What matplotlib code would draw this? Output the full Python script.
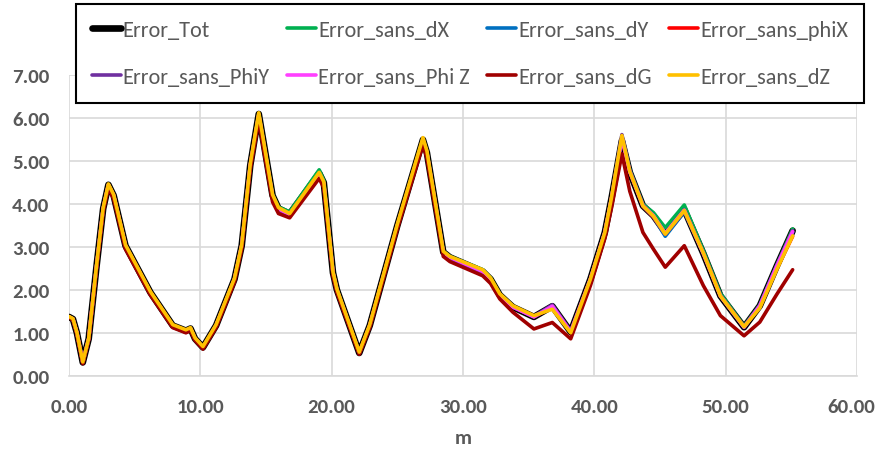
import matplotlib
matplotlib.use("Agg")
import matplotlib.pyplot as plt
from matplotlib import font_manager
from matplotlib.transforms import ScaledTranslation

x_m = [0.0, 0.3, 0.6, 1.05, 1.5, 2.1, 2.6, 3.0, 3.4, 4.3,
       6.2, 7.9, 8.9, 9.25, 9.6, 10.2, 11.2, 12.6, 13.15, 13.8,
       14.45, 15.5, 15.95, 16.8, 19.05, 19.4, 20.1, 20.4, 22.1, 22.9,
       25.0, 26.95, 27.25, 28.5, 29.0, 31.5, 32.1, 32.8, 33.8, 35.4,
       36.8, 38.2, 39.7, 40.8, 41.3, 42.1, 42.7, 43.7, 44.5, 45.4,
       46.85, 48.3, 49.6, 51.4, 52.6, 53.9, 55.1]

error_tot = [1.37, 1.32, 1.00, 0.31, 0.86, 2.56, 3.89, 4.45, 4.20, 3.03,
             1.94, 1.17, 1.05, 1.10, 0.86, 0.66, 1.17, 2.25, 3.03, 4.90,
             6.10, 4.20, 3.90, 3.77, 4.72, 4.50, 2.40, 2.00, 0.53, 1.17,
             3.50, 5.50, 5.20, 2.88, 2.76, 2.43, 2.25, 1.88, 1.60, 1.37,
             1.62, 1.02, 2.25, 3.34, 4.12, 5.48, 4.74, 3.96, 3.73, 3.34,
             3.87, 2.85, 1.86, 1.13, 1.63, 2.56, 3.38]

error_sans_dX = [1.37, 1.32, 1.00, 0.31, 0.86, 2.56, 3.89, 4.45, 4.20, 3.03,
                 1.94, 1.17, 1.05, 1.10, 0.86, 0.66, 1.17, 2.25, 3.03, 4.90,
                 6.10, 4.22, 3.93, 3.82, 4.80, 4.55, 2.42, 2.02, 0.53, 1.17,
                 3.50, 5.52, 5.22, 2.90, 2.78, 2.47, 2.28, 1.90, 1.62, 1.38,
                 1.62, 1.02, 2.25, 3.34, 4.12, 5.55, 4.80, 4.00, 3.80, 3.45,
                 3.98, 2.92, 1.92, 1.16, 1.65, 2.58, 3.42]

error_sans_dY = [1.37, 1.32, 1.00, 0.31, 0.86, 2.56, 3.89, 4.45, 4.20, 3.03,
                 1.94, 1.17, 1.05, 1.10, 0.86, 0.66, 1.17, 2.25, 3.03, 4.90,
                 6.08, 4.18, 3.88, 3.76, 4.70, 4.48, 2.40, 2.00, 0.53, 1.17,
                 3.50, 5.50, 5.20, 2.86, 2.74, 2.42, 2.24, 1.87, 1.60, 1.38,
                 1.63, 1.02, 2.25, 3.34, 4.12, 5.60, 4.78, 3.95, 3.70, 3.25,
                 3.82, 2.85, 1.86, 1.13, 1.63, 2.56, 3.35]

error_sans_phiX = [1.37, 1.32, 1.00, 0.31, 0.86, 2.56, 3.89, 4.45, 4.20, 3.03,
                   1.94, 1.17, 1.05, 1.10, 0.86, 0.66, 1.17, 2.25, 3.03, 4.90,
                   6.08, 4.18, 3.88, 3.76, 4.70, 4.48, 2.40, 2.00, 0.53, 1.17,
                   3.50, 5.50, 5.20, 2.87, 2.75, 2.43, 2.25, 1.88, 1.60, 1.38,
                   1.58, 1.02, 2.25, 3.34, 4.12, 5.55, 4.76, 3.95, 3.70, 3.30,
                   3.85, 2.85, 1.86, 1.14, 1.60, 2.50, 3.25]

error_sans_PhiY = [1.37, 1.32, 1.00, 0.31, 0.86, 2.56, 3.89, 4.45, 4.20, 3.03,
                   1.94, 1.17, 1.05, 1.10, 0.86, 0.66, 1.17, 2.25, 3.03, 4.90,
                   6.05, 4.15, 3.85, 3.72, 4.68, 4.46, 2.38, 1.98, 0.52, 1.16,
                   3.48, 5.48, 5.18, 2.85, 2.72, 2.40, 2.23, 1.87, 1.60, 1.38,
                   1.65, 1.04, 2.25, 3.34, 4.12, 5.62, 4.78, 3.98, 3.72, 3.30,
                   3.86, 2.86, 1.87, 1.14, 1.64, 2.58, 3.38]

error_sans_PhiZ = [1.37, 1.32, 1.00, 0.31, 0.86, 2.56, 3.89, 4.45, 4.20, 3.03,
                   1.94, 1.17, 1.05, 1.10, 0.86, 0.66, 1.17, 2.25, 3.03, 4.90,
                   6.09, 4.19, 3.89, 3.76, 4.71, 4.49, 2.40, 2.00, 0.53, 1.17,
                   3.50, 5.50, 5.20, 2.88, 2.76, 2.43, 2.25, 1.88, 1.60, 1.37,
                   1.62, 1.02, 2.25, 3.34, 4.12, 5.52, 4.75, 3.96, 3.73, 3.32,
                   3.86, 2.85, 1.86, 1.13, 1.63, 2.56, 3.36]

error_sans_dG = [1.35, 1.30, 0.97, 0.28, 0.83, 2.50, 3.82, 4.38, 4.12, 2.95,
                 1.88, 1.12, 1.00, 1.05, 0.82, 0.62, 1.12, 2.18, 2.95, 4.80,
                 5.95, 4.05, 3.78, 3.68, 4.60, 4.38, 2.33, 1.94, 0.50, 1.12,
                 3.42, 5.38, 5.08, 2.78, 2.66, 2.33, 2.15, 1.79, 1.48, 1.09,
                 1.24, 0.86, 2.10, 3.20, 3.90, 5.17, 4.30, 3.34, 2.95, 2.53,
                 3.03, 2.10, 1.40, 0.93, 1.25, 1.90, 2.47]

error_sans_dZ = [1.38, 1.33, 1.01, 0.32, 0.87, 2.58, 3.91, 4.47, 4.22, 3.05,
                 1.96, 1.19, 1.07, 1.12, 0.88, 0.68, 1.19, 2.27, 3.05, 4.93,
                 6.13, 4.22, 3.92, 3.78, 4.74, 4.52, 2.42, 2.02, 0.55, 1.19,
                 3.53, 5.55, 5.24, 2.90, 2.78, 2.47, 2.28, 1.91, 1.63, 1.40,
                 1.55, 1.00, 2.25, 3.34, 4.14, 5.60, 4.76, 3.96, 3.72, 3.30,
                 3.85, 2.86, 1.86, 1.14, 1.58, 2.48, 3.26]

series_labels = ["Error_Tot", "Error_sans_dX", "Error_sans_dY", "Error_sans_phiX",
                 "Error_sans_PhiY", "Error_sans_Phi Z", "Error_sans_dG", "Error_sans_dZ"]
series_values = [error_tot, error_sans_dX, error_sans_dY, error_sans_phiX,
                 error_sans_PhiY, error_sans_PhiZ, error_sans_dG, error_sans_dZ]
series_colors = ["#000000", "#00B050", "#0070C0", "#FF0000",
                 "#7030A0", "#FF40FF", "#A00000", "#FFC000"]
x_ticks = [0, 10, 20, 30, 40, 50, 60]
y_ticks = [0, 1, 2, 3, 4, 5, 6, 7]

available = {f.name for f in font_manager.fontManager.ttflist}
fam = "Liberation Sans"
for cand in ["Carlito", "Liberation Sans Narrow", "Arimo"]:
    if cand in available:
        fam = cand
        break
plt.rcParams["font.family"] = [fam, "DejaVu Sans"]

W, H = 879, 452
fig = plt.figure(figsize=(W / 100, H / 100), dpi=100)
ax = fig.add_axes([69 / W, 1 - 376.7 / H, (857 - 69) / W, 300.3 / H])

handles = []
for i, (lab, vals, col) in enumerate(zip(series_labels, series_values, series_colors)):
    lw = 4.8 if i == 0 else 2.6
    h, = ax.plot(x_m, vals, color=col, lw=lw, label=lab,
                 solid_joinstyle="round", solid_capstyle="round", zorder=3 + i)
    handles.append(h)

ax.set_xlim(0, 60)
ax.set_ylim(0, 7)
ax.set_xticks(x_ticks)
ax.set_yticks(y_ticks)
ax.set_xticklabels([f"{v:.2f}" for v in x_ticks])
ax.set_yticklabels([f"{v:.2f}" for v in y_ticks])
ax.grid(True, color="#D9D9D9", lw=1.2, zorder=0)
for s in ["top", "right", "left"]:
    ax.spines[s].set_visible(False)
ax.spines["bottom"].set_color("#D9D9D9")
ax.spines["bottom"].set_linewidth(1.2)
ax.tick_params(axis="both", length=0, labelcolor="#595959", labelsize=15)
ax.tick_params(axis="y", pad=14)
ax.tick_params(axis="x", pad=16)
for t in ax.get_xticklabels() + ax.get_yticklabels():
    t.set_fontweight("bold")
# keep the last x tick label inside the canvas
last = ax.get_xticklabels()[-1]
last.set_transform(last.get_transform() + ScaledTranslation(-4 / 72, 0, fig.dpi_scale_trans))
ax.set_xlabel("m", fontsize=15, fontweight="bold", color="#595959", labelpad=10)

# matplotlib fills legend column by column; reorder so entries read row by row
order = [0, 4, 1, 5, 2, 6, 3, 7]
leg = fig.legend(handles=[handles[k] for k in order],
                 labels=[series_labels[k] for k in order], ncol=4,
                 loc="center", mode="expand",
                 bbox_to_anchor=(65 / W, 1 - 104 / H, 810 / W, 99 / H),
                 fontsize=16, handlelength=1.3, handletextpad=0.1,
                 labelspacing=1.22, borderpad=0.7, columnspacing=1.0,
                 frameon=True, fancybox=False, framealpha=1, edgecolor="black")
leg.get_frame().set_linewidth(1.5)
for t in leg.get_texts():
    t.set_color("#595959")

fig.savefig("out.png", dpi=100)
